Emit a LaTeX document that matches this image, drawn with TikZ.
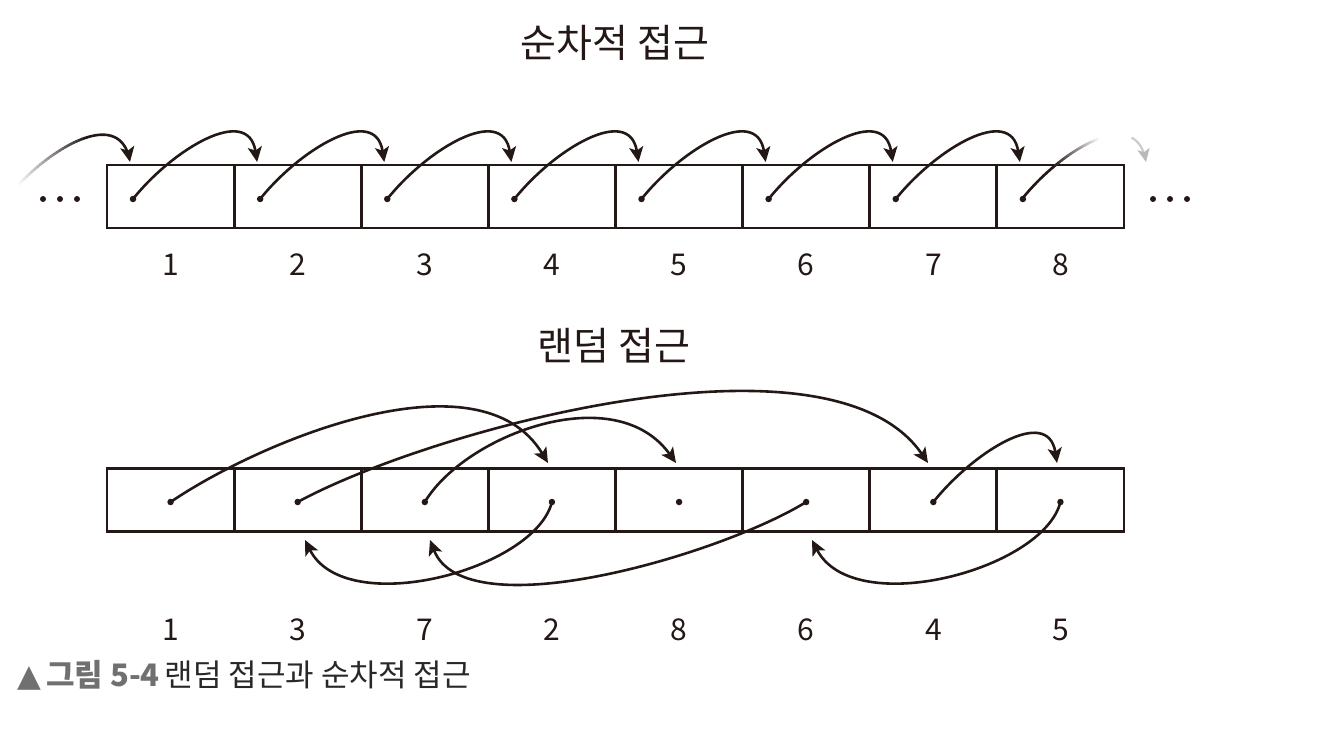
\documentclass[tikz,border=0pt]{standalone}
\usepackage{fontspec}
\setmainfont{Noto Sans CJK KR}
\newfontfamily\symfont{DejaVu Sans}
\usetikzlibrary{arrows.meta}
\definecolor{ink}{RGB}{35,24,21}
\definecolor{capgray}{RGB}{112,112,112}
\definecolor{captext}{RGB}{40,40,40}
\begin{document}
\begin{tikzpicture}[x=1pt,y=-1pt,
  cell/.style={draw=ink, line width=2.8pt, minimum width=127.125pt, minimum height=63pt, inner sep=0pt, outer sep=0pt},
  dot/.style={circle, fill=ink, inner sep=0pt, minimum size=6.5pt},
  edot/.style={circle, fill=ink, inner sep=0pt, minimum size=6pt},
  arr/.style={draw=ink, line width=2.6pt, -{Stealth[length=15pt,width=14pt,inset=3.5pt]}},
  fadeln/.style={line width=2.6pt, line cap=round},
  num/.style={font=\fontsize{30}{30}\selectfont, text=ink, inner sep=0pt},
  ttl/.style={font=\fontsize{39}{39}\selectfont, text=ink, inner sep=0pt},
  declare function={bz(\qt,\qa,\qb,\qc,\qd)=(1-\qt)^3*\qa+3*(1-\qt)^2*\qt*\qb+3*(1-\qt)*\qt^2*\qc+\qt^3*\qd;}
]
\useasboundingbox (0,0) rectangle (1324,738);

% titles
\node[ttl] (title1) at (615,43) {순차적 접근};
\node[ttl] (title2) at (614,346) {랜덤 접근};

% ---------- sequential row ----------
\foreach \i in {1,...,8} {
  \node[cell] (t\i) at ({107+63.5625+127.125*(\i-1)},196.5) {};
  \node[dot] (td\i) at ({133+127.125*(\i-1)},199) {};
  \coordinate (tt\i) at ({130+127.125*(\i-1)},162);
  \node[num] (tn\i) at ({170.6+127.125*(\i-1)},265) {\i};
}
\foreach \i/\j in {1/2,2/3,3/4,4/5,5/6,6/7,7/8} {
  \draw[arr] (td\i.center) .. controls +(40,-50) and +(-9,-58) .. (tt\j);
}
% ellipsis dots
\foreach \k/\x in {1/43,2/60,3/77} { \node[edot] (ld\k) at (\x,199) {}; }
\foreach \k/\x in {1/1153,2/1170,3/1187} { \node[edot] (rd\k) at (\x,199) {}; }

% incoming faded arrow (left)
\foreach \i in {0,...,24} {
  \pgfmathsetmacro\ta{0.1+\i*0.018}
  \pgfmathsetmacro\tb{\ta+0.02}
  \pgfmathtruncatemacro\pp{3+\i*4}
  \draw[fadeln, draw=ink!\pp!white] plot[domain=\ta:\tb, samples=3, variable=\t]
    ({6+bz(\t,0,40,115,124)},{199+bz(\t,0,-50,-95,-37)});
}
\draw[arr] plot[domain=0.55:1, samples=25, variable=\t]
    ({6+bz(\t,0,40,115,124)},{199+bz(\t,0,-50,-95,-37)});

% outgoing faded arrow (right)
\foreach \i in {0,...,27} {
  \pgfmathsetmacro\ta{\i*0.02}
  \pgfmathsetmacro\tb{\ta+0.021}
  \pgfmathtruncatemacro\pp{max(0,min(100,100-(\ta-0.22)*330))}
  \draw[fadeln, draw=ink!\pp!white] plot[domain=\ta:\tb, samples=3, variable=\t]
    ({1022+bz(\t,0,40,115,124)},{199+bz(\t,0,-50,-95,-37)});
}
\draw[line width=2.2pt, draw=gray!40, -{Stealth[length=13pt,width=12pt,inset=3pt,color=gray!55]}]
  plot[domain=0.78:1, samples=10, variable=\t]
    ({1022+bz(\t,0,40,115,124)},{199+bz(\t,0,-50,-95,-37)});

% ---------- random row ----------
\foreach \i/\lab in {1/1,2/3,3/7,4/2,5/8,6/6,7/4,8/5} {
  \node[cell] (b\i) at ({107+63.5625+127.125*(\i-1)},500) {};
  \node[dot] (bd\i) at ({107+63.5625+127.125*(\i-1)},502) {};
  \node[num] (bn\i) at ({170.6+127.125*(\i-1)},630) {\lab};
}
\coordinate (up4) at (548,463);
\coordinate (up5) at (676,463);
\coordinate (up7) at (928,463);
\coordinate (up8) at (1057,463);
\coordinate (lo2) at (305,540);
\coordinate (lo3) at (430,540);
\coordinate (lo6) at (812,540);

% 1 -> 2
\draw[arr] (bd1.center) .. controls (262,440) and (480,350) .. (up4);
% 2 -> 3
\draw[arr] (bd4.center) .. controls +(-17,68) and (345,620) .. (lo2);
% 3 -> 4
\draw[arr] (bd2.center) .. controls (430,430) and (830,320) .. (up7);
% 4 -> 5
\draw[arr] (bd7.center) .. controls +(40,-50) and +(-9,-58) .. (up8);
% 5 -> 6
\draw[arr] (bd8.center) .. controls +(-17,68) and +(41,80) .. (lo6);
% 6 -> 7
\draw[arr] (bd6.center) .. controls (720,555) and (465,630) .. (lo3);
% 7 -> 8
\draw[arr] (bd3.center) .. controls (465,435) and (615,378) .. (up5);

% caption
\node[anchor=west, inner sep=0pt, font=\fontsize{31}{31}\selectfont] (cap) at (17,675)
  {{\symfont\color{capgray}▲}\hspace{5pt}{\bfseries\color{capgray}그림 5-4}\hspace{5pt}{\color{captext}랜덤 접근과 순차적 접근}};
\end{tikzpicture}
\end{document}
